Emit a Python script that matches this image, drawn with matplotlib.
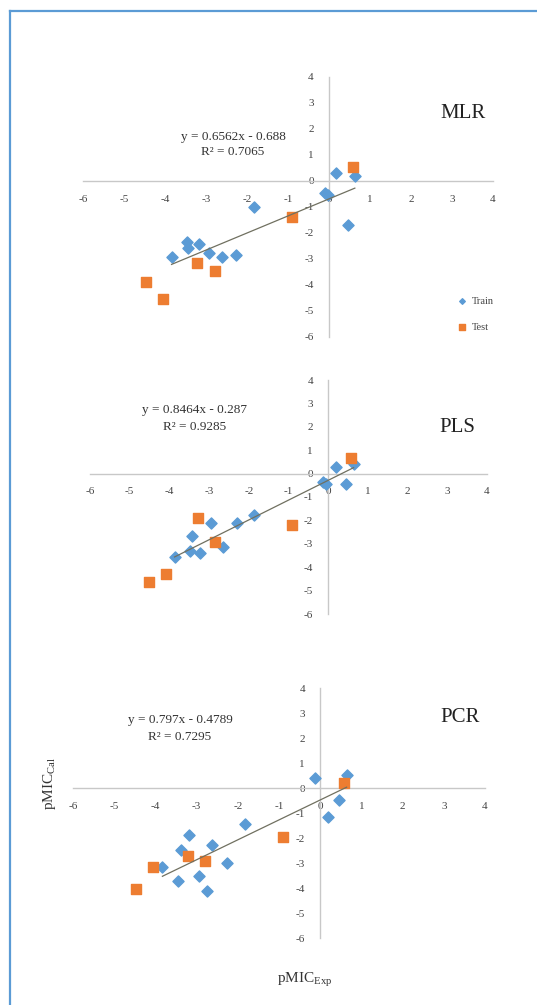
import matplotlib.pyplot as plt
from matplotlib.lines import Line2D

plt.rcParams['font.family'] = ['Liberation Serif', 'DejaVu Serif']
plt.rcParams['mathtext.fontset'] = 'custom'
plt.rcParams['mathtext.rm'] = 'Liberation Serif'
plt.rcParams['axes.unicode_minus'] = False

W, H = 537, 1005

# MLR
mlr_train_x = [0.17, 0.63, -0.1, -0.02, 0.47, -1.82, -3.47, -3.43, -3.16, -3.84, -2.93, -2.6, -2.27]
mlr_train_y = [0.29, 0.2, -0.45, -0.54, -1.69, -1.01, -2.33, -2.59, -2.44, -2.94, -2.78, -2.91, -2.85]
mlr_test_x = [0.58, -0.91, -3.23, -2.78, -4.46, -4.04]
mlr_test_y = [0.55, -1.37, -3.14, -3.45, -3.87, -4.55]

# PLS
pls_train_x = [0.2, 0.64, -0.12, -0.05, 0.44, -1.86, -2.3, -2.96, -3.42, -2.66, -3.48, -3.23, -3.87]
pls_train_y = [0.3, 0.41, -0.37, -0.45, -0.44, -1.79, -2.09, -2.09, -2.66, -3.12, -3.29, -3.38, -3.55]
pls_test_x = [0.58, -0.92, -3.27, -2.85, -4.08, -4.51]
pls_test_y = [0.66, -2.19, -1.88, -2.91, -4.3, -4.64]

# PCR
pcr_train_x = [-0.12, 0.64, 0.18, 0.46, -1.83, -3.18, -2.63, -3.38, -3.83, -2.27, -2.94, -3.46, -2.75]
pcr_train_y = [0.4, 0.53, -1.17, -0.47, -1.44, -1.88, -2.27, -2.48, -3.17, -3.0, -3.51, -3.71, -4.11]
pcr_test_x = [0.58, -0.9, -3.22, -2.8, -4.05, -4.46]
pcr_test_y = [0.19, -1.97, -2.71, -2.93, -3.17, -4.04]

models = ['MLR', 'PLS', 'PCR']
slopes = [0.6562, 0.8464, 0.797]
intercepts = [-0.688, -0.287, -0.4789]
eq_lines = ['y = 0.6562x - 0.688', 'y = 0.8464x - 0.287', 'y = 0.797x - 0.4789']
r2_lines = ['R² = 0.7065', 'R² = 0.9285', 'R² = 0.7295']
ticks = [-6, -5, -4, -3, -2, -1, 0, 1, 2, 3, 4]

train_x = [mlr_train_x, pls_train_x, pcr_train_x]
train_y = [mlr_train_y, pls_train_y, pcr_train_y]
test_x = [mlr_test_x, pls_test_x, pcr_test_x]
test_y = [mlr_test_y, pls_test_y, pcr_test_y]

# axes boxes in pixels: left, right, top(y=4), bottom(y=-6)
boxes = [(83, 493, 77, 337), (90, 487, 380, 614), (73, 485, 688, 938)]
label_pos = [(463, 113), (457, 427), (460, 717)]
eq_pos = [(233, 137), (195, 410), (180, 720)]
r2_pos = [(233, 152), (195, 427), (180, 737)]

blue = '#5B9BD5'
orange = '#ED7D31'

fig = plt.figure(figsize=(W / 100, H / 100), dpi=100)

def fx(x):
    return x / W

def fy(y):
    return 1 - y / H

for i in range(3):
    l, r, t, b = boxes[i]
    ax = fig.add_axes([fx(l), fy(b), (r - l) / W, (b - t) / H])
    ax.set_xlim(-6, 4)
    ax.set_ylim(-6, 4)
    ax.patch.set_alpha(0)
    for s in ['top', 'right']:
        ax.spines[s].set_visible(False)
    ax.spines['left'].set_position('zero')
    ax.spines['bottom'].set_position('zero')
    for s in ['left', 'bottom']:
        ax.spines[s].set_color('#C8C8C8')
        ax.spines[s].set_linewidth(1.0)
    ax.set_xticks(ticks)
    ax.set_yticks(ticks)
    ax.tick_params(axis='x', length=0, labelsize=8, colors='#444444', pad=10)
    ax.tick_params(axis='y', length=0, labelsize=8, colors='#444444', pad=11)

    ax.scatter(train_x[i], train_y[i], marker='D', s=32, color=blue, zorder=3, label='Train')
    ax.scatter(test_x[i], test_y[i], marker='s', s=55, color=orange, zorder=4, label='Test')

    x0, x1 = min(train_x[i]), max(train_x[i])
    ax.plot([x0, x1], [slopes[i] * x0 + intercepts[i], slopes[i] * x1 + intercepts[i]],
            color='#707060', lw=0.9, zorder=5)

    fig.text(fx(label_pos[i][0]), fy(label_pos[i][1]), models[i], fontsize=15,
             ha='center', va='center', color='#222222')
    fig.text(fx(eq_pos[i][0]), fy(eq_pos[i][1]), eq_lines[i], fontsize=9.5,
             ha='center', va='center', color='#333333')
    fig.text(fx(r2_pos[i][0]), fy(r2_pos[i][1]), r2_lines[i], fontsize=9.5,
             ha='center', va='center', color='#333333')

    if i == 0:
        ax.legend(loc='center left', bbox_to_anchor=(fx(446), fy(314)),
                  bbox_transform=fig.transFigure, frameon=False, fontsize=7.5,
                  labelspacing=1.6, handletextpad=0.0, markerscale=0.5,
                  borderpad=0, labelcolor='#444444')

fig.text(fx(50), fy(783), r'pMIC$_{\mathrm{Cal}}$', rotation=90, fontsize=11,
         ha='center', va='center', color='#333333')
fig.text(fx(305), fy(980), r'pMIC$_{\mathrm{Exp}}$', fontsize=11,
         ha='center', va='center', color='#333333')

# frame border
fig.add_artist(Line2D([fx(10), 1], [fy(11), fy(11)], color='#5B9BD5', lw=1.6))
fig.add_artist(Line2D([fx(10), fx(10)], [fy(11), 0], color='#5B9BD5', lw=1.6))

fig.savefig('out.png', dpi=100)
